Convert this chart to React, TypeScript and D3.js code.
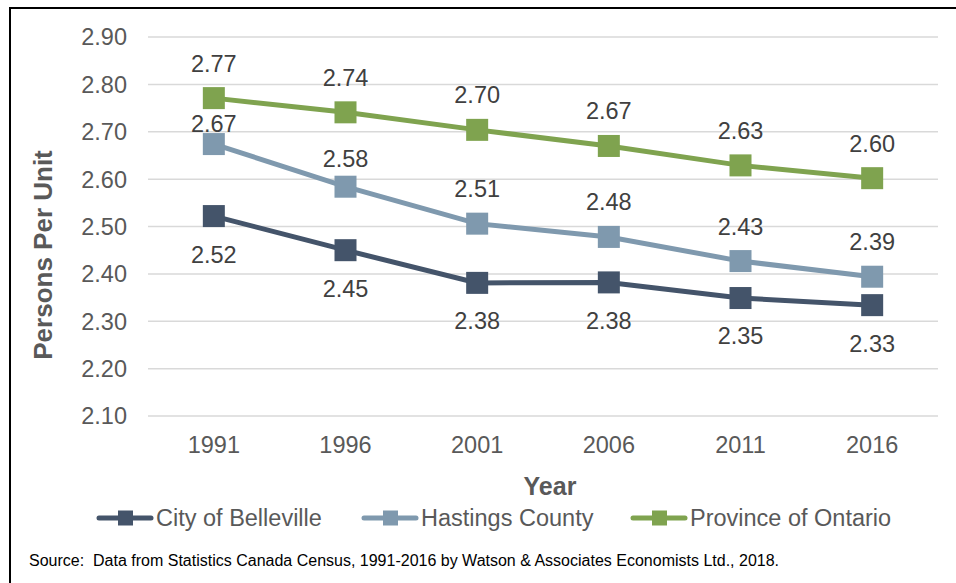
import React from 'react';
import * as d3 from 'd3';

const years = ['1991', '1996', '2001', '2006', '2011', '2016'];
const belleville = [2.522, 2.45, 2.381, 2.382, 2.349, 2.334];
const hastings = [2.674, 2.584, 2.506, 2.478, 2.427, 2.394];
const ontario = [2.771, 2.741, 2.704, 2.67, 2.629, 2.602];
const yTicks = [2.1, 2.2, 2.3, 2.4, 2.5, 2.6, 2.7, 2.8, 2.9];
const seriesNames = ['City of Belleville', 'Hastings County', 'Province of Ontario'];

const FONT = '"Liberation Sans", Arial, sans-serif';
const W = 956;
const H = 583;

// colours and label placement per series (label dy = offset of label centre from point)
const styles = [
  { color: '#44546A', labelDy: 38 },
  { color: '#7F99AE', labelDy: -35 },
  { color: '#7FA34F', labelDy: -35 },
];
// a couple of labels were nudged in the original to clear neighbouring lines
const labelNudge: Record<string, number> = { '1-0': 14, '1-1': 7 };

export default function App() {
  const x = d3.scaleBand<string>().domain(years).range([148, 938]);
  const y = d3.scaleLinear().domain([2.1, 2.9]).range([416, 37]);
  const cx = (yr: string) => (x(yr) ?? 0) + x.bandwidth() / 2;

  const series = [belleville, hastings, ontario];
  const line = d3.line<number>()
    .x((_, i) => cx(years[i]))
    .y(d => y(d));

  const legendX = [97, 362, 631];

  return (
    <svg width={W} height={H} style={{ position: 'absolute', left: 0, top: 0, background: '#fff' }}
      fontFamily={FONT}>
      <rect x={0} y={0} width={W} height={H} fill="#fff" />
      {/* frame */}
      <line x1={9} x2={W} y1={8} y2={8} stroke="#000" strokeWidth={2} />
      <line x1={10} x2={10} y1={7} y2={H} stroke="#000" strokeWidth={2} />

      {/* gridlines + y labels */}
      {yTicks.map(t => (
        <g key={t}>
          <line x1={148} x2={938} y1={y(t)} y2={y(t)} stroke="#d9d9d9" strokeWidth={1.5} />
          <text x={127} y={y(t)} dy="0.36em" textAnchor="end" fontSize={23.5} fill="#595959">
            {t.toFixed(2)}
          </text>
        </g>
      ))}

      {/* x labels */}
      {years.map(yr => (
        <text key={yr} x={cx(yr)} y={453} textAnchor="middle" fontSize={23.5} fill="#595959">{yr}</text>
      ))}

      {/* axis titles */}
      <text x={550} y={495} textAnchor="middle" fontSize={25} fontWeight="bold" fill="#595959">Year</text>
      <text transform="translate(52,255) rotate(-90)" textAnchor="middle" fontSize={26} fontWeight="bold" fill="#595959">
        Persons Per Unit
      </text>

      {/* series */}
      {series.map((vals, s) => (
        <g key={s}>
          <path d={line(vals) ?? ''} fill="none" stroke={styles[s].color} strokeWidth={5} />
          {vals.map((v, i) => (
            <rect key={i} x={cx(years[i]) - 11} y={y(v) - 11} width={22} height={22} fill={styles[s].color} />
          ))}
        </g>
      ))}

      {/* data labels */}
      {series.map((vals, s) => vals.map((v, i) => (
        <text key={`${s}-${i}`} x={cx(years[i])} y={y(v) + styles[s].labelDy + (labelNudge[`${s}-${i}`] ?? 0)}
          dy="0.36em" textAnchor="middle" fontSize={23.5} fill="#404040">
          {v.toFixed(2)}
        </text>
      )))}

      {/* legend */}
      {seriesNames.map((name, s) => (
        <g key={name} transform={`translate(${legendX[s]},518)`}>
          <line x1={2} x2={54} y1={0} y2={0} stroke={styles[s].color} strokeWidth={5} strokeLinecap="round" />
          <rect x={21} y={-7.5} width={15} height={15} fill={styles[s].color} />
          <text x={59} y={0} dy="0.36em" fontSize={23.5} fill="#595959">{name}</text>
        </g>
      ))}

      <text x={29} y={566} fontSize={16} fill="#000" style={{ whiteSpace: 'pre' }}>
        {'Source:  Data from Statistics Canada Census, 1991-2016 by Watson & Associates Economists Ltd., 2018.'}
      </text>
    </svg>
  );
}
